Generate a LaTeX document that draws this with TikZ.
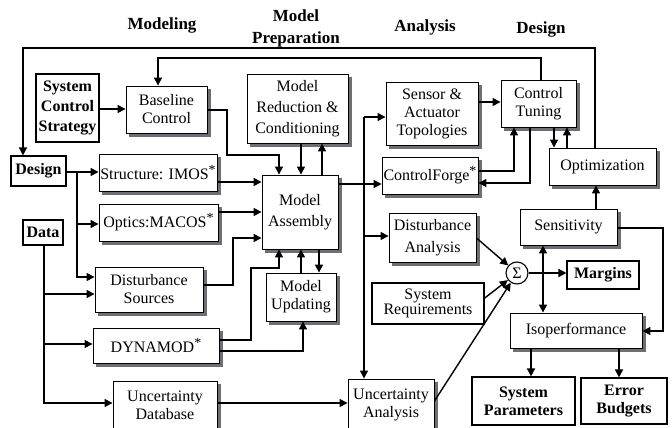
\documentclass[tikz,border=0pt]{standalone}
\usepackage{fontspec}
\setmainfont{Liberation Serif}
\usetikzlibrary{arrows.meta,calc}

\newcommand{\toolmark}{\raisebox{5pt}{\fontsize{14}{14}\selectfont *}}
\definecolor{shadowgrey}{RGB}{110,110,115}

\begin{document}
\begin{tikzpicture}[x=1pt,y=-1pt,
  every node/.style={inner sep=0pt, align=center},
  lsk/.style={font=\fontsize{16}{#1}\selectfont},
  box/.style={draw, fill=white, line width=0.9pt, lsk=18},
  bbox/.style={draw, fill=white, line width=1.1pt, font=\fontsize{16}{18}\selectfont\bfseries},
  head/.style={font=\fontsize{17}{22}\selectfont\bfseries},
  sz/.style 2 args={minimum width=#1pt, minimum height=#2pt},
  boxshadow/.style={fill=shadowgrey, draw=none},
  arr/.style={line width=1.4pt, -{Triangle[length=8pt,width=8pt]}},
  dbl/.style={line width=1.4pt, {Triangle[length=8pt,width=8pt]}-{Triangle[length=8pt,width=8pt]}}
]
\useasboundingbox (0,0) rectangle (672,428);

% column headings
\node[head] (hmod) at (162,25) {Modeling};
\node[head] (hprep) at (296,28) {Model\\Preparation};
\node[head] (hana) at (425,27) {Analysis};
\node[head] (hdes) at (541,29) {Design};

% modeling column
\node[bbox, sz={63}{68}, font=\fontsize{16}{20}\selectfont\bfseries] (sysctl) at (67.5,108) {System\\Control\\Strategy};
\node[box, sz={81}{47}] (baseline) at (166.5,109.5) {Baseline\\Control};
\node[bbox, sz={55}{30}] (design) at (38.5,171) {Design};
\node[bbox, sz={40}{25}] (data) at (43,232.5) {Data};
\node[box, sz={118}{37}] (imos) at (158,172.5) {Structure: IMOS\toolmark};
\node[box, sz={119}{37}] (optics) at (158.5,222.5) {Optics:MACOS\toolmark};
\node[box, sz={108}{45}] (dsrc) at (149,289.5) {Disturbance\\Sources};
\node[box, sz={126}{35}] (dynamod) at (156,345.5) {DYNAMOD\toolmark};
\node[box, sz={104}{49}] (udb) at (165,405.5) {Uncertainty\\Database};

% model preparation column
\node[box, sz={101}{69}, lsk=21] (mred) at (297.5,108.5) {Model\\Reduction \&\\Conditioning};
\node[box, sz={76}{74}, lsk=21] (massy) at (300,212) {Model\\Assembly};
\node[box, sz={70}{48}] (mupd) at (301,297) {Model\\Updating};

% analysis column
\node[box, sz={92}{63}] (sens) at (432,113.5) {Sensor \&\\Actuator\\Topologies};
\node[box, sz={96}{37}] (cforge) at (430,175.5) {ControlForge\toolmark};
\node[box, sz={87}{49}, lsk=22] (dana) at (432.5,237.5) {Disturbance\\Analysis};
\node[draw, fill=white, line width=1.5pt, sz={112}{41}, lsk=14] (sreq) at (428,303.5) {System\\Requirements};
\node[box, sz={86}{51}] (uana) at (391,404.5) {Uncertainty\\Analysis};

% design column
\node[box, sz={75}{47}] (ctune) at (538.5,103.5) {Control\\Tuning};
\node[box, sz={107}{37}] (opt) at (602.5,166.5) {Optimization};
\node[box, sz={97}{36}] (sensi) at (568.5,227) {Sensitivity};
\node[draw, circle, fill=white, line width=1.1pt, minimum size=22pt, font=\fontsize{16}{16}\selectfont] (sigma) at (517,273) {Σ};
\node[bbox, sz={72}{28}] (margins) at (603,275) {Margins};
\node[box, sz={132}{35}] (iso) at (576,330.5) {Isoperformance};
\node[bbox, sz={103}{48}] (syspar) at (523.5,401) {System\\Parameters};
\node[bbox, sz={86}{46}] (errb) at (624,401) {Error\\Budgets};

% grey offset shadows: a strip along the right and the bottom of each tool box
\foreach \n in {baseline,imos,optics,dsrc,dynamod,udb,mred,massy,mupd,
                sens,cforge,dana,uana,ctune,opt,sensi,iso}{
  \fill[boxshadow] ($(\n.north east)+(0.5,3.5)$) rectangle ($(\n.south east)+(3.5,3.5)$);
  \fill[boxshadow] ($(\n.south west)+(3.5,0.5)$) rectangle ($(\n.south east)+(3.5,3.5)$);
}

% feedback loops along the top
\draw[arr] (opt.north -| 595,0) -- (595,48) -- (23,48) -- (design.north -| 23,0);
\draw[arr] (ctune.north -| 541,0) -- (541,58) -- (158,58) -- (baseline.north -| 158,0);

% modeling inputs
\draw[arr] (sysctl.east |- 0,109) -- (baseline.west |- 0,109);
\draw[arr] (baseline.east |- 0,110) -- (227,110) -- (227,155) -- (279,155) -- (massy.north -| 279,0);
\draw[arr] (mred.south -| 301,0) -- (massy.north -| 301,0);
\draw[arr] (massy.north -| 322,0) -- (mred.south -| 322,0);
\draw[arr] (design.east |- 0,172) -- (imos.west |- 0,172);
\draw[arr] (77,172) |- (dsrc.west |- 0,277);
\draw[arr] (77,224) -- (optics.west |- 0,224);
\draw[arr] (imos.east |- 0,182) -- (massy.west |- 0,182);
\draw[arr] (optics.east |- 0,212) -- (massy.west |- 0,212);
\draw[arr] (dsrc.east |- 0,285) -- (233,285) -- (233,238) -- (massy.west |- 0,238);
\draw[arr] (data.south -| 44,0) |- (udb.west |- 0,403);
\draw[arr] (44,294) -- (dsrc.west |- 0,294);
\draw[arr] (44,344) -- (dynamod.west |- 0,344);
\draw[arr] (dynamod.east |- 0,340) -- (251,340) -- (251,268) -- (279,268) -- (massy.south -| 279,0);
\draw[arr] (dynamod.east |- 0,351) -| (mupd.south -| 303,0);
\draw[arr] (mupd.north -| 301,0) -- (massy.south -| 301,0);
\draw[arr] (massy.south -| 319,0) -- (mupd.north -| 319,0);

% analysis distribution
\draw[arr] (massy.east |- 0,184) -- (cforge.west |- 0,184);
\draw[arr] (364,117) -- (sens.west |- 0,117);
\draw[arr] (364,117) -- (uana.north -| 364,0);
\draw[arr] (364,236) -- (dana.west |- 0,236);
\draw[arr] (udb.east |- 0,403) -- (uana.west |- 0,403);

% control design loop
\draw[arr] (sens.east |- 0,102) -- (ctune.west |- 0,102);
\draw[arr] (cforge.east |- 0,171) -| (ctune.south -| 514,0);
\draw[arr] (ctune.south -| 530,0) |- (cforge.east |- 0,183);
\draw[arr] (ctune.south -| 554,0) -- (opt.north -| 554,0);
\draw[arr] (opt.north -| 567,0) -- (ctune.south -| 567,0);
\draw[arr] (sensi.north -| 596,0) -- (opt.south -| 596,0);
\draw[arr] (sensi.east |- 0,228) -| (663,331) -- (iso.east |- 0,331);

% summing junction
\draw[arr] (dana.east |- 0,238) -- (sigma);
\draw[arr] (sreq.east |- 0,298) -- (sigma);
\draw[arr] (uana.east |- 0,401) -- (sigma);
\draw[arr] (sigma.east) -- (margins.west |- 0,273);
\draw[dbl] (sensi.south -| 543,0) -- (iso.north -| 543,0);
\draw[arr] (iso.south -| 531,0) -- (syspar.north -| 531,0);
\draw[arr] (iso.south -| 619,0) -- (errb.north -| 619,0);
\end{tikzpicture}
\end{document}
